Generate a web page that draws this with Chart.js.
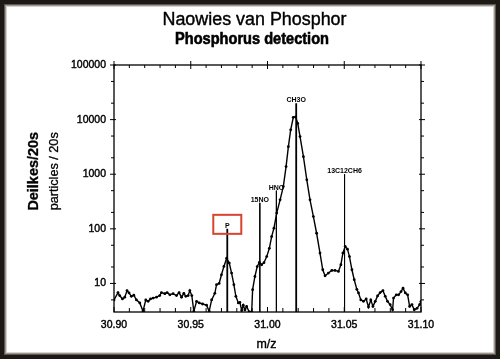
<!DOCTYPE html>
<html lang="en">
<head>
  <meta charset="UTF-8">
  <title>Naowies van Phosphor - Phosphorus detection</title>
  <script src="https://cdn.jsdelivr.net/npm/chart.js"></script>
  <style>
    * {
      box-sizing: border-box;
      margin: 0;
      padding: 0;
    }

    body {
      width: 500px;
      height: 359px;
      overflow: hidden;
      background: #1d1915;
    }

    canvas {
      display: block;
    }
  </style>
</head>
<body>
  <canvas id="spectrumChart" width="500" height="359"></canvas>

  <script>
    // m/z positions and counts
    const mz = [
      30.9000, 30.9026, 30.9037, 30.9055, 30.9070, 30.9085, 30.9098, 30.9113, 30.9129, 30.9146,
      30.9168, 30.9189, 30.9207, 30.9222, 30.9238, 30.9255, 30.9277, 30.9298, 30.9309, 30.9331,
      30.9346, 30.9364, 30.9385, 30.9407, 30.9424, 30.9440, 30.9455, 30.9468, 30.9483, 30.9494,
      30.9507, 30.9520, 30.9538, 30.9555, 30.9577, 30.9603, 30.9620, 30.9636, 30.9657, 30.9668,
      30.9685, 30.9700, 30.9716, 30.9734, 30.9751, 30.9766, 30.9781, 30.9794, 30.9810, 30.9820,
      30.9832, 30.9842, 30.9853, 30.9864, 30.9881, 30.9897, 30.9903, 30.9918, 30.9933, 30.9947,
      30.9962, 30.9977, 30.9995, 31.0012, 31.0027, 31.0042, 31.0060, 31.0082, 31.0103, 31.0121,
      31.0136, 31.0151, 31.0168, 31.0184, 31.0197, 31.0212, 31.0234, 31.0256, 31.0277, 31.0299,
      31.0320, 31.0342, 31.0360, 31.0375, 31.0397, 31.0419, 31.0440, 31.0462, 31.0478, 31.0491,
      31.0506, 31.0521, 31.0534, 31.0550, 31.0565, 31.0582, 31.0593, 31.0608, 31.0625, 31.0643,
      31.0658, 31.0673, 31.0687, 31.0702, 31.0717, 31.0734, 31.0752, 31.0767, 31.0782, 31.0799,
      31.0815, 31.0821, 31.0839, 31.0854, 31.0870, 31.0883, 31.0898, 31.0913, 31.0926, 31.0941,
      31.0956, 31.0974, 31.0991, 31.1000
    ];
    const counts = [
      5.0, 6.8, 6.0, 5.2, 5.6, 7.4, 6.7, 5.8, 6.1, 5.0,
      4.4, 3.1, 5.0, 4.7, 5.2, 5.4, 5.6, 6.0, 6.8, 6.5,
      6.8, 6.2, 6.5, 6.0, 6.8, 5.6, 6.6, 5.8, 6.0, 7.4,
      6.0, 3.1, 4.7, 4.4, 4.2, 4.0, 3.1, 5.0, 6.6, 9.5,
      10, 14.4, 20.5, 29, 23.6, 15.5, 9.5, 5.8, 4.4, 4.5,
      3.2, 4.0, 3.3, 3.8, 3.0, 3.0, 7.7, 13.4, 20.4, 24.2,
      22, 24, 31, 44, 72, 103, 194, 340, 594, 1380,
      3200, 6500, 11000, 11200, 8500, 4900, 2100, 790, 340, 168,
      83, 36, 17.8, 13.8, 15.5, 17.3, 17.3, 16.6, 22, 36,
      47.5, 42.5, 31, 17.8, 11.7, 7.8, 6.7, 5.0, 4.7, 5.2,
      3.7, 5.0, 3.8, 4.7, 5.9, 6.8, 7.4, 5.8, 4.7, 4.1,
      3.3, 5.4, 6.2, 6.2, 7.1, 8.2, 6.7, 6.2, 3.8, 4.1,
      3.3, 3.5, 4.1, 4.7
    ];

    // assigned peaks: name, position, top of the marker line
    const peakNames = ['P', '15NO', 'HNO', 'CH3O', '13C12CH6'];
    const peakMz = [30.9738, 30.9950, 31.0058, 31.0187, 31.0502];
    const peakTop = [100, 300, 500, 20000, 1000];

    const xTickValues = [30.90, 30.95, 31.00, 31.05, 31.10];
    const yTickValues = [10, 100, 1000, 10000, 100000];
    const yMin = 3;
    const yMax = 100000;

    const FONT = "'Liberation Sans', Arial, sans-serif";

    // text squeezed/stretched to a given width, like the scanned original
    function fitText(ctx, text, x, y, width, stroke) {
      const w = ctx.measureText(text).width;
      ctx.save();
      ctx.translate(x, y);
      ctx.scale(width / w, 1);
      ctx.textAlign = 'center';
      if (stroke) {
        ctx.lineWidth = stroke;
        ctx.strokeText(text, 0, 0);
      }
      ctx.fillText(text, 0, 0);
      ctx.restore();
    }

    const decorPlugin = {
      id: 'decor',
      beforeDraw(chart) {
        const ctx = chart.ctx;
        ctx.save();
        // photo frame
        ctx.fillStyle = '#1d1915';
        ctx.fillRect(0, 0, 500, 359);
        ctx.fillStyle = '#5e5853';
        ctx.fillRect(4, 4, 492, 351);
        ctx.fillStyle = '#9c968f';
        ctx.fillRect(5, 5, 490, 349);
        ctx.fillStyle = '#d6d2cd';
        ctx.fillRect(6, 6, 488, 347);
        ctx.fillStyle = '#ffffff';
        ctx.fillRect(7, 7, 486, 345);
        ctx.restore();
      },
      afterDraw(chart) {
        const ctx = chart.ctx;
        const area = chart.chartArea;
        const xs = chart.scales.x;
        const ys = chart.scales.y;

        ctx.save();
        ctx.strokeStyle = '#000';
        ctx.fillStyle = '#000';

        // plot frame
        ctx.lineWidth = 1.3;
        ctx.strokeRect(area.left, area.top, area.right - area.left, area.bottom - area.top);

        // tick marks on all four sides
        ctx.lineWidth = 1;
        ctx.beginPath();
        for (let i = 0; i <= 20; i++) {
          const px = xs.getPixelForValue(30.90 + i * 0.01);
          const major = i % 5 === 0;
          ctx.moveTo(px, area.bottom);
          ctx.lineTo(px, area.bottom - (major ? 5 : 4));
          ctx.moveTo(px, area.top + (major ? 4 : 3));
          ctx.lineTo(px, area.top - (major ? 4 : 0));
        }
        for (let d = 1; d <= 100000; d *= 10) {
          [1, 2, 5].forEach(m => {
            const v = m * d;
            if (v < yMin || v > yMax) return;
            const py = ys.getPixelForValue(v);
            const len = m === 1 ? 4 : 3;
            ctx.moveTo(area.left - len, py);
            ctx.lineTo(area.left + (m === 1 ? 2 : 0), py);
            ctx.moveTo(area.right + len, py);
            ctx.lineTo(area.right - (m === 1 ? 2 : 0), py);
          });
        }
        ctx.stroke();

        // peak labels
        ctx.font = 'bold 7px ' + FONT;
        ctx.textAlign = 'center';
        ctx.textBaseline = 'alphabetic';
        peakNames.forEach((name, i) => {
          const px = xs.getPixelForValue(peakMz[i]);
          const py = ys.getPixelForValue(peakTop[i]);
          ctx.fillText(name, px, py - 1);
          if (name === 'P') {
            ctx.strokeStyle = '#d8442e';
            ctx.lineWidth = 2;
            ctx.strokeRect(px - 14, py - 14, 28, 19);
            ctx.strokeStyle = '#000';
          }
        });

        // titles
        ctx.font = '18px ' + FONT;
        fitText(ctx, 'Naowies van Phosphor', 254.5, 25, 184, 0.4);
        ctx.font = 'bold 16px ' + FONT;
        fitText(ctx, 'Phosphorus detection', 252, 43.5, 154, 0.6);

        // axis titles
        ctx.font = '13.5px ' + FONT;
        fitText(ctx, 'm/z', 266.5, 348, 20, 0.4);

        ctx.save();
        ctx.translate(37.7, 171.3);
        ctx.rotate(-Math.PI / 2);
        ctx.font = 'bold 14.4px ' + FONT;
        fitText(ctx, 'Deilkes/20s', 0, 0, 78.5, 0.3);
        ctx.restore();

        ctx.save();
        ctx.translate(57.5, 171.3);
        ctx.rotate(-Math.PI / 2);
        ctx.font = '12.7px ' + FONT;
        fitText(ctx, 'particles / 20s', 0, 0, 78, 0.3);
        ctx.restore();

        ctx.restore();
      }
    };

    const spectrum = mz.map((m, i) => ({ x: m, y: counts[i] }));

    const peakLines = peakNames.map((name, i) => ({
      label: name,
      data: [{ x: peakMz[i], y: peakTop[i] }, { x: peakMz[i], y: yMin }],
      borderColor: '#000',
      borderWidth: (name === 'P' || name === 'CH3O') ? 1.8 : 0.9,
      pointRadius: 0,
      fill: false
    }));

    const tickFont = { family: FONT, size: 10.5 };

    const ctx = document.getElementById('spectrumChart').getContext('2d');
    new Chart(ctx, {
      type: 'line',
      data: {
        datasets: [
          {
            label: 'Counts',
            data: spectrum,
            borderColor: '#000',
            borderWidth: 1.4,
            pointRadius: 1.4,
            pointBackgroundColor: '#000',
            pointBorderWidth: 0,
            tension: 0,
            fill: false
          },
          ...peakLines
        ]
      },
      options: {
        responsive: false,
        animation: false,
        layout: {
          padding: { top: 65, right: 79, left: 0, bottom: 0 }
        },
        plugins: {
          legend: { display: false },
          tooltip: { enabled: false }
        },
        scales: {
          x: {
            type: 'linear',
            min: 30.9,
            max: 31.1,
            afterBuildTicks: scale => {
              scale.ticks = xTickValues.map(v => ({ value: v }));
            },
            afterFit: scale => {
              scale.height = 47;
            },
            ticks: {
              callback: v => Number(v).toFixed(2),
              color: '#000',
              font: tickFont,
              textStrokeColor: '#000',
              textStrokeWidth: 0.4,
              padding: 7,
              maxRotation: 0,
              autoSkip: false
            },
            grid: { display: false, drawTicks: false },
            border: { display: false }
          },
          y: {
            type: 'logarithmic',
            min: yMin,
            max: yMax,
            afterBuildTicks: scale => {
              scale.ticks = yTickValues.map(v => ({ value: v }));
            },
            afterFit: scale => {
              scale.width = 114;
            },
            ticks: {
              callback: v => String(v),
              color: '#000',
              font: tickFont,
              textStrokeColor: '#000',
              textStrokeWidth: 0.4,
              padding: 8,
              autoSkip: false
            },
            grid: { display: false, drawTicks: false },
            border: { display: false }
          }
        }
      },
      plugins: [decorPlugin]
    });
  </script>
</body>
</html>
